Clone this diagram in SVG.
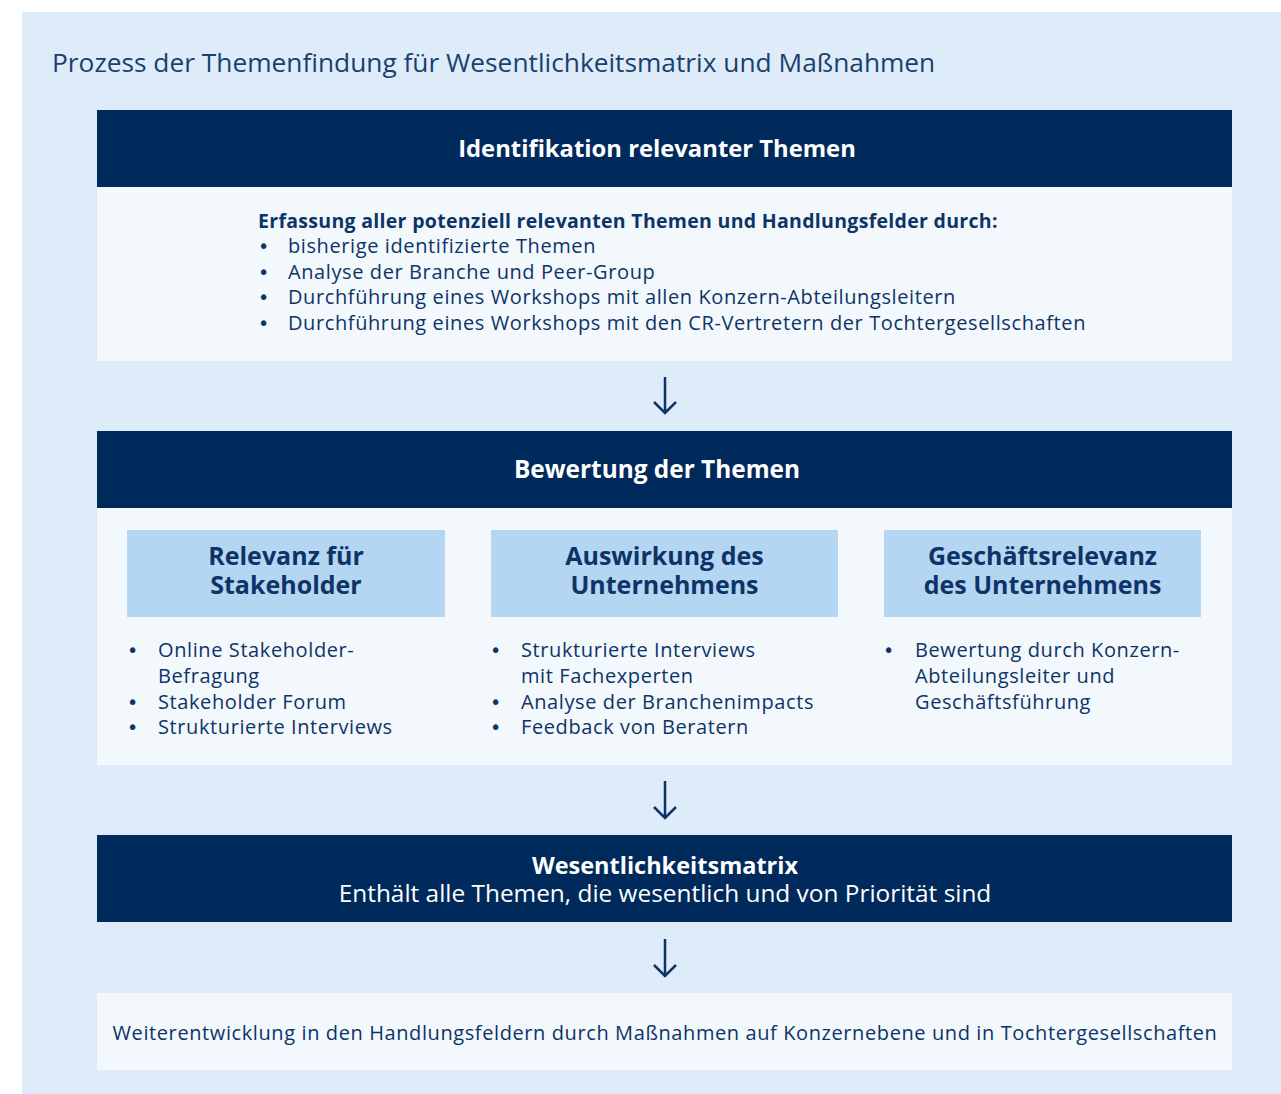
<svg xmlns="http://www.w3.org/2000/svg" width="1281" height="1094" viewBox="0 0 1281 1094">
  <style>
    text { font-family: "Open Sans", "Noto Sans", "DejaVu Sans", sans-serif; fill: #0d3466; }
    .title { font-size: 26.3px; fill: #1b3f6e; }
    .head { fill: #002a5b; }
    .body { fill: #f3f8fd; }
    .sub { fill: #b4d6f2; }
    .hd { font-size: 23.8px; font-weight: 700; fill: #ffffff; text-anchor: middle; }
    .st { font-size: 25px; font-weight: 700; text-anchor: middle; }
    .tx { font-size: 20px; letter-spacing: 0.6px; }
    .lead { font-size: 19.5px; font-weight: 700; letter-spacing: 0.3px; }
    .dot { font-family: "DejaVu Sans", sans-serif; font-size: 19px; letter-spacing: 0; }
    .mid { text-anchor: middle; }
    .arrow { stroke: #0d3466; stroke-width: 2.5; fill: none; }
  </style>

  <!-- background panel -->
  <rect x="22" y="12" width="1259" height="1082" fill="#deebf9"/>
  <text class="title" x="52" y="72">Prozess der Themenfindung für Wesentlichkeitsmatrix und Maßnahmen</text>

  <g id="identifikation">
    <rect class="head" x="97" y="110" width="1135" height="77"/>
    <rect class="body" x="97" y="187" width="1135" height="174"/>
    <text class="hd" x="657" y="157">Identifikation relevanter Themen</text>
    <text class="lead" x="258" y="228">Erfassung aller potenziell relevanten Themen und Handlungsfelder durch:</text>
    <g class="tx">
      <text x="258" y="253"><tspan class="dot">•</tspan><tspan x="288">bisherige identifizierte Themen</tspan></text>
      <text x="258" y="279"><tspan class="dot">•</tspan><tspan x="288">Analyse der Branche und Peer-Group</tspan></text>
      <text x="258" y="304"><tspan class="dot">•</tspan><tspan x="288">Durchführung eines Workshops mit allen Konzern-Abteilungsleitern</tspan></text>
      <text x="258" y="330"><tspan class="dot">•</tspan><tspan x="288">Durchführung eines Workshops mit den CR-Vertretern der Tochtergesellschaften</tspan></text>
    </g>
  </g>

  <g id="bewertung">
    <rect class="head" x="97" y="431" width="1135" height="77"/>
    <rect class="body" x="97" y="508" width="1135" height="257"/>
    <text class="hd" x="657" y="478" style="font-size:24.4px">Bewertung der Themen</text>

    <g id="relevanz">
      <rect class="sub" x="127" y="530" width="318" height="87"/>
      <text class="st" x="286" y="565">Relevanz für<tspan x="286" dy="29">Stakeholder</tspan></text>
      <g class="tx">
        <text x="127" y="657"><tspan class="dot">•</tspan><tspan x="158">Online Stakeholder-</tspan><tspan x="158" dy="26">Befragung</tspan></text>
        <text x="127" y="709"><tspan class="dot">•</tspan><tspan x="158">Stakeholder Forum</tspan></text>
        <text x="127" y="734"><tspan class="dot">•</tspan><tspan x="158">Strukturierte Interviews</tspan></text>
      </g>
    </g>

    <g id="auswirkung">
      <rect class="sub" x="491" y="530" width="347" height="87"/>
      <text class="st" x="664.5" y="565">Auswirkung des<tspan x="664.5" dy="29">Unternehmens</tspan></text>
      <g class="tx">
        <text x="490" y="657"><tspan class="dot">•</tspan><tspan x="521">Strukturierte Interviews</tspan><tspan x="521" dy="26">mit Fachexperten</tspan></text>
        <text x="490" y="709"><tspan class="dot">•</tspan><tspan x="521">Analyse der Branchenimpacts</tspan></text>
        <text x="490" y="734"><tspan class="dot">•</tspan><tspan x="521">Feedback von Beratern</tspan></text>
      </g>
    </g>

    <g id="geschaeftsrelevanz">
      <rect class="sub" x="884" y="530" width="317" height="87"/>
      <text class="st" x="1042.5" y="565">Geschäftsrelevanz<tspan x="1042.5" dy="29">des Unternehmens</tspan></text>
      <g class="tx">
        <text x="883" y="657"><tspan class="dot">•</tspan><tspan x="915">Bewertung durch Konzern-</tspan><tspan x="915" dy="26">Abteilungsleiter und</tspan><tspan x="915" dy="26">Geschäftsführung</tspan></text>
      </g>
    </g>
  </g>

  <g id="matrix">
    <rect class="head" x="97" y="835" width="1135" height="87"/>
    <text class="hd" x="665" y="874" style="font-size:23.5px">Wesentlichkeitsmatrix<tspan x="665" dy="28" style="font-size:24.4px;font-weight:400">Enthält alle Themen, die wesentlich und von Priorität sind</tspan></text>
  </g>

  <g id="massnahmen">
    <rect class="body" x="97" y="993" width="1135" height="77"/>
    <text class="tx mid" x="665" y="1040">Weiterentwicklung in den Handlungsfeldern durch Maßnahmen auf Konzernebene und in Tochtergesellschaften</text>
  </g>

  <g id="connectors">
    <path class="arrow" d="M665 377 V412 M654 402 L665 413 L676 402"/>
    <path class="arrow" d="M665 781 V817 M654 807 L665 818 L676 807"/>
    <path class="arrow" d="M665 939 V975 M654 965 L665 976 L676 965"/>
  </g>
</svg>
